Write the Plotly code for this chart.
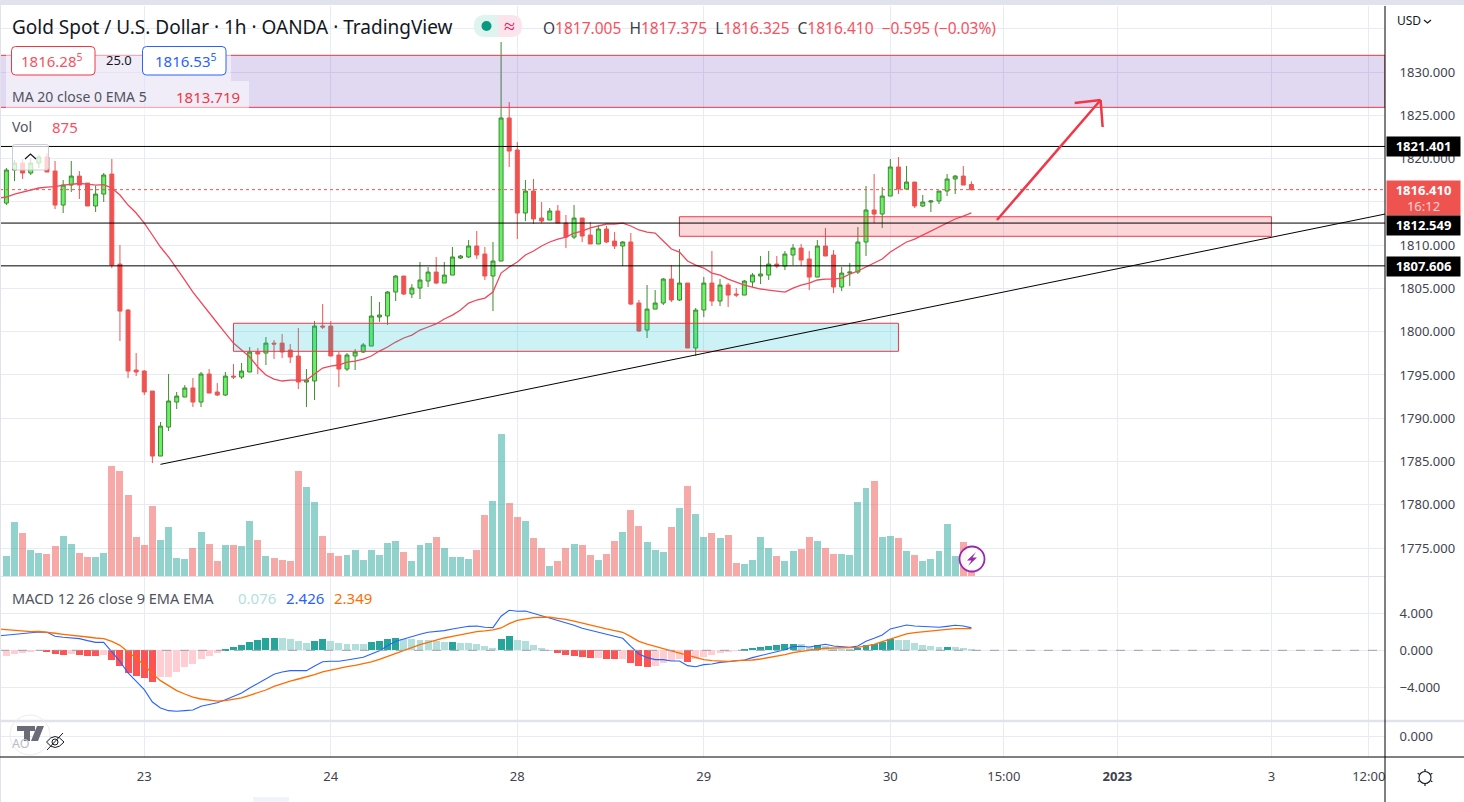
import plotly.graph_objects as go

# ---- price data (hourly bars, OANDA XAU/USD) ----
opens = [1814.86,1818.68,1819.48,1818.33,1819.48,1820.18,1818.56,1814.63,1816.94,1817.98,
 1817.17,1814.52,1815.90,1818.21,1807.81,1802.50,1795.57,1795.45,1793.14,1785.63,
 1788.98,1791.87,1792.45,1793.49,1791.87,1795.11,1793.03,1792.68,1794.87,1794.76,
 1795.34,1797.65,1797.53,1798.68,1798.68,1797.88,1797.19,1794.18,1794.30,1800.65,
 1800.65,1797.30,1795.68,1797.19,1797.65,1798.34,1801.69,1801.81,1804.58,1806.43,
 1804.35,1805.04,1805.85,1806.89,1805.62,1806.54,1808.51,1808.63,1809.90,1808.97,
 1806.43,1808.16,1824.69,1820.99,1813.71,1816.25,1813.13,1812.90,1813.94,1812.55,
 1810.93,1813.13,1811.16,1810.13,1811.86,1810.47,1809.90,1810.36,1803.31,1800.19,
 1802.61,1803.31,1806.08,1803.66,1805.62,1798.11,1802.50,1805.62,1803.54,1805.39,
 1804.35,1804.23,1805.74,1806.43,1806.54,1807.81,1807.58,1808.86,1809.66,1808.40,
 1806.31,1809.90,1808.86,1805.16,1806.77,1806.89,1810.36,1814.06,1813.59,1815.67,
 1819.03,1816.48,1817.29,1814.52,1814.98,1815.10,1816.25,1817.64,1817.98,1817.005]
highs = [1818.91,1819.83,1819.95,1820.06,1820.41,1820.64,1819.72,1817.52,1819.72,1818.56,
 1817.17,1816.83,1818.33,1819.95,1810.01,1802.61,1797.53,1795.57,1793.14,1789.56,
 1795.11,1793.03,1793.83,1794.64,1795.34,1795.68,1794.06,1795.34,1796.26,1796.38,
 1798.23,1798.11,1799.38,1799.03,1799.73,1798.57,1800.42,1795.68,1801.23,1803.19,
 1801.23,1797.65,1797.53,1798.00,1798.68,1804.12,1803.43,1804.70,1806.54,1806.43,
 1805.50,1808.05,1807.47,1808.63,1808.05,1809.78,1808.86,1810.59,1811.63,1809.78,
 1810.36,1833.47,1826.53,1821.91,1817.52,1817.64,1814.98,1814.29,1814.63,1813.48,
 1814.63,1813.13,1812.67,1812.32,1812.21,1811.51,1810.47,1811.40,1803.66,1805.39,
 1804.81,1806.20,1807.70,1809.55,1805.62,1802.73,1806.32,1809.32,1806.08,1805.62,
 1805.04,1805.97,1806.77,1808.74,1809.32,1808.74,1809.32,1810.13,1810.13,1809.32,
 1810.59,1811.98,1809.43,1807.47,1807.93,1812.09,1816.83,1818.21,1816.71,1819.95,
 1820.18,1819.14,1817.29,1815.79,1815.21,1816.25,1818.21,1818.10,1819.14,1817.375]
lows = [1814.63,1817.40,1817.64,1818.10,1818.91,1818.45,1814.17,1813.71,1816.14,1815.33,
 1814.52,1813.83,1814.98,1807.35,1798.92,1794.64,1794.87,1792.68,1784.82,1785.63,
 1788.52,1791.06,1792.45,1791.29,1791.29,1792.91,1792.56,1792.56,1794.53,1794.53,
 1795.34,1795.11,1796.15,1796.84,1796.95,1796.38,1793.37,1791.29,1792.10,1800.31,
 1797.19,1793.60,1795.45,1795.57,1797.53,1798.34,1801.12,1800.77,1803.54,1804.23,
 1803.88,1803.77,1805.16,1805.50,1805.62,1806.54,1808.40,1808.51,1808.40,1805.97,
 1802.38,1808.16,1819.03,1810.70,1812.78,1812.44,1812.55,1812.90,1812.55,1809.66,
 1810.70,1810.36,1810.13,1810.13,1810.24,1809.55,1807.58,1803.07,1799.96,1799.27,
 1802.61,1803.07,1803.43,1803.54,1798.11,1797.19,1801.69,1802.96,1802.96,1802.85,
 1804.00,1804.23,1805.16,1805.50,1805.97,1807.35,1807.12,1807.70,1807.58,1804.81,
 1806.31,1808.74,1804.46,1804.69,1805.27,1806.66,1808.74,1812.55,1811.98,1815.67,
 1815.90,1816.48,1814.29,1814.40,1813.83,1814.75,1815.67,1815.90,1816.94,1816.325]
closes = [1818.68,1819.48,1818.33,1819.48,1820.18,1818.45,1814.63,1816.94,1817.98,1816.94,
 1814.52,1815.90,1818.10,1807.70,1802.38,1795.45,1795.34,1793.03,1785.63,1789.09,
 1791.99,1792.56,1793.49,1791.87,1795.11,1792.91,1792.68,1794.87,1794.76,1795.45,
 1797.65,1797.42,1798.68,1798.57,1797.65,1797.07,1794.18,1794.41,1800.65,1800.54,
 1797.19,1795.68,1797.30,1797.65,1798.46,1801.81,1801.92,1804.58,1806.43,1804.35,
 1805.04,1805.97,1806.89,1805.62,1806.54,1808.63,1808.74,1809.90,1808.86,1806.43,
 1808.16,1824.69,1820.87,1813.71,1816.25,1813.02,1812.78,1813.94,1812.55,1810.93,
 1813.13,1811.05,1810.13,1811.86,1810.36,1809.90,1810.36,1803.19,1800.08,1802.61,
 1803.31,1806.08,1803.66,1805.62,1798.11,1802.50,1805.62,1803.54,1805.39,1804.23,
 1804.23,1805.85,1806.54,1806.66,1807.81,1807.58,1808.97,1809.66,1808.28,1806.31,
 1809.90,1808.74,1805.16,1806.77,1806.89,1810.36,1814.06,1813.59,1815.67,1819.03,
 1816.48,1817.29,1814.52,1814.98,1815.10,1816.25,1817.64,1817.98,1816.94,1816.41]
# line series start one bar earlier (index -1), off the left edge of the chart
ma_ema = [1815.44,1815.56,1815.90,1816.14,1816.37,1816.60,1816.71,1816.77,1816.94,1817.06,1817.12,
 1817.06,1816.94,1817.00,1816.60,1815.79,1814.63,1813.71,1812.55,1811.17,1809.78,
 1808.63,1807.35,1805.97,1804.58,1803.43,1802.15,1801.00,1799.84,1798.68,1797.88,
 1797.07,1795.92,1794.99,1794.53,1794.30,1794.41,1794.41,1794.41,1795.11,1795.80,
 1796.03,1796.15,1796.49,1796.61,1796.84,1797.19,1797.76,1798.23,1798.80,1799.27,
 1799.61,1800.19,1800.54,1800.89,1801.46,1801.92,1802.50,1803.31,1803.66,1803.88,
 1804.58,1806.77,1807.47,1808.05,1808.86,1809.32,1809.90,1810.36,1810.70,1810.93,
 1811.40,1811.63,1811.98,1812.21,1812.44,1812.44,1812.55,1812.21,1811.75,1811.51,
 1811.40,1810.47,1809.55,1809.20,1808.16,1807.70,1807.35,1806.77,1806.54,1806.08,
 1805.74,1805.39,1805.16,1804.93,1804.81,1804.70,1804.58,1805.04,1805.39,1805.62,
 1805.97,1806.08,1806.08,1806.20,1806.66,1807.01,1807.47,1807.93,1808.40,1809.20,
 1809.78,1810.36,1810.70,1811.17,1811.63,1812.09,1812.55,1813.02,1813.36,1813.719]
volumes = [3000,8100,6450,3900,3450,3300,4500,6000,4800,3450,2850,2850,3450,16500,15750,12150,5850,4650,10500,5400,
 7350,2700,2550,4200,6600,4800,2250,4650,4650,4500,8250,5400,3000,2700,2400,2250,15750,13350,11100,6000,
 3450,3000,3150,3900,2400,3900,3150,4950,5250,3600,2250,4650,4950,5850,4200,2850,2850,2550,3900,9150,
 11250,21300,10950,8850,8250,5700,4200,1500,2250,4200,4800,4650,3150,2400,3300,5250,6600,9900,7500,5100,
 3900,3600,7350,10200,13500,9300,5850,6450,5700,6150,1950,1800,2400,5850,4200,3000,2250,3750,4050,5850,
 5250,4200,3300,3300,3150,11100,13200,14250,5850,6000,5700,3750,3150,2250,2550,3750,7800,3000,5100,875]
macd_hist = [-0.58,-0.40,-0.25,-0.14,-0.04,-0.18,-0.40,-0.47,-0.40,-0.50,-0.58,-0.58,-0.50,-1.05,-1.69,-2.41,-2.74,-2.95,-3.39,-2.85,
 -2.85,-2.31,-1.77,-1.44,-0.90,-0.58,-0.25,0.18,0.40,0.61,0.94,1.15,1.37,1.37,1.37,1.26,1.05,0.83,1.05,1.26,
 1.05,0.83,0.72,0.72,0.72,0.94,1.05,1.26,1.37,1.26,1.26,1.15,1.15,1.05,0.94,0.94,0.83,0.83,0.72,0.50,
 0.29,1.26,1.59,1.15,1.05,0.61,0.29,0.03,-0.25,-0.47,-0.58,-0.68,-0.79,-0.79,-0.90,-0.90,-0.90,-1.33,-1.66,-1.77,
 -1.66,-1.33,-1.12,-0.90,-1.23,-0.90,-0.68,-0.47,-0.25,-0.14,-0.04,0.18,0.29,0.40,0.50,0.61,0.72,0.72,0.72,0.40,
 0.61,0.47,0.18,0.11,0.07,0.29,0.54,0.72,0.94,1.26,1.15,1.15,0.83,0.61,0.50,0.40,0.40,0.40,0.29,0.076]
# hist state: U growing above 0, u falling above 0, D falling below 0, d rising below 0
hist_state = list(
    "dddddDDDdDDDdDDDDDD" "dddddddd" "UUUUUUU" "uuuu" "UU" "uuuuu" "UUUU" "uuuuuu" "U" "uuuuu" "UU" "uuuuu"
    "DDDDD" "d" "DD" "d" "DDD" "dddd" "D" "dddddd" "UUUUUUU" "uu" "U" "uuuu" "UUUUU" "uuuuuu" "U" "uuu")
macd_line = [1.55,1.62,1.77,1.84,1.87,1.98,1.95,1.51,1.41,1.37,1.26,1.05,0.86,0.86,-0.11,-1.19,-2.45,-3.35,-4.25,-5.59,-6.23,
 -6.52,-6.59,-6.52,-6.45,-6.05,-5.87,-5.66,-5.33,-4.94,-4.61,-4.07,-3.57,-3.06,-2.59,-2.34,-2.20,-2.20,-2.20,-1.69,-1.23,
 -1.19,-1.19,-1.05,-0.94,-0.76,-0.40,-0.04,0.50,0.97,1.23,1.44,1.73,1.95,2.02,2.13,2.31,2.45,2.59,2.63,2.49,
 2.45,3.68,4.32,4.22,4.25,4.00,3.75,3.50,3.24,2.92,2.70,2.38,2.13,1.95,1.73,1.51,1.30,0.43,-0.40,-0.79,
 -1.01,-1.01,-1.15,-1.15,-1.66,-1.77,-1.55,-1.48,-1.30,-1.23,-1.12,-1.05,-0.79,-0.58,-0.36,-0.18,0.07,0.40,0.43,0.36,
 0.54,0.65,0.47,0.36,0.32,0.47,0.97,1.30,1.66,2.31,2.56,2.74,2.63,2.59,2.49,2.49,2.59,2.70,2.63,2.426]
macd_signal = [2.31,2.23,2.13,2.05,2.02,2.05,1.98,1.84,1.73,1.66,1.55,1.44,1.33,1.26,0.97,0.54,-0.18,-0.83,-1.62,-2.52,-3.28,
 -3.86,-4.36,-4.72,-5.05,-5.26,-5.41,-5.48,-5.44,-5.33,-5.15,-4.86,-4.61,-4.29,-3.89,-3.57,-3.32,-3.10,-2.88,-2.63,-2.34,
 -2.13,-1.95,-1.77,-1.62,-1.48,-1.26,-0.97,-0.65,-0.29,0.04,0.32,0.61,0.86,1.12,1.33,1.51,1.69,1.87,2.02,2.09,
 2.20,2.41,2.88,3.24,3.42,3.53,3.57,3.57,3.46,3.35,3.14,2.92,2.70,2.49,2.31,2.13,1.95,1.48,0.97,0.68,
 0.40,0.18,-0.07,-0.32,-0.58,-0.83,-1.01,-1.12,-1.19,-1.19,-1.12,-1.12,-1.05,-0.94,-0.79,-0.65,-0.47,-0.25,-0.11,0.04,
 0.14,0.22,0.25,0.25,0.29,0.32,0.47,0.65,0.94,1.23,1.48,1.77,1.91,2.02,2.13,2.20,2.27,2.34,2.38,2.349]

# ---- axes ----
time_ticks = [17, 40, 63, 86, 109, 123, 137, 156, 168]
time_labels = ["23", "24", "28", "29", "30", "15:00", "<b>2023</b>", "3", "12:00"]
price_ticks = [1830, 1825, 1820, 1810, 1805, 1800, 1795, 1790, 1785, 1780, 1775]
price_labels = ["1830.000", "1825.000", "1820.000", "1810.000", "1805.000", "1800.000", "1795.000",
                "1790.000", "1785.000", "1780.000", "1775.000"]
price_grid_only = [1835, 1815]
macd_ticks = [4, 0, -4]
macd_labels = ["4.000", "0.000", "−4.000"]

# ---- drawings (bar index, price) ----
levels = [1821.401, 1812.549, 1807.606]
last_price = 1816.41
zone_purple = [-0.79, 170.0, 1825.92, 1831.93]
zone_teal = [28.0, 110.0, 1797.73, 1800.97]
zone_pink = [83.0, 156.0, 1811.02, 1813.28]
trend = [19.0, 170.0, 1784.67, 1813.59]
arrow_x = [122.15, 134.93, 131.73, 135.18]
arrow_y = [1812.90, 1826.77, 1826.42, 1823.65]

W, H = 1464, 802
AX = 1385
PX = lambda x: x / W
PY = lambda y: 1 - y / H
FONT = "Noto Sans"
DARK = "#131722"
GRID = "#e6ecf3"
RED = "#f23645"
CANDLE_RED = "#ef5350"

bars = list(range(len(closes)))
line_bars = [-1] + bars
vol_colors = ["rgba(38,166,154,0.5)" if c >= o else "rgba(239,83,80,0.5)" for o, c in zip(opens, closes)]
state_color = {"U": "#26a69a", "u": "#b2dfdb", "D": "#ff5252", "d": "#ffcdd2"}
hist_colors = [state_color[s] for s in hist_state]

fig = go.Figure()
fig.add_trace(go.Bar(x=bars, y=volumes, marker=dict(color=vol_colors, line_width=0), width=0.86,
                     xaxis="x", yaxis="y", hoverinfo="skip"))
fig.add_trace(go.Candlestick(x=bars, open=opens, high=highs, low=lows, close=closes,
                             increasing=dict(line=dict(color="#3f8a2e", width=1), fillcolor="#69f069"),
                             decreasing=dict(line=dict(color=CANDLE_RED, width=1), fillcolor=CANDLE_RED),
                             whiskerwidth=0, xaxis="x", yaxis="y2", hoverinfo="skip"))
fig.add_trace(go.Scatter(x=line_bars, y=ma_ema, mode="lines", line=dict(color="#f0475a", width=1.3),
                         xaxis="x", yaxis="y2", hoverinfo="skip"))
fig.add_trace(go.Bar(x=bars, y=macd_hist, marker=dict(color=hist_colors, line_width=0), width=0.86,
                     xaxis="x", yaxis="y3", hoverinfo="skip"))
fig.add_trace(go.Scatter(x=line_bars, y=macd_line, mode="lines", line=dict(color="#2962ff", width=1.1),
                         xaxis="x", yaxis="y3", hoverinfo="skip"))
fig.add_trace(go.Scatter(x=line_bars, y=macd_signal, mode="lines", line=dict(color="#ff6d00", width=1.3),
                         xaxis="x", yaxis="y3", hoverinfo="skip"))
# the AO pane carries no visible values in the reference
fig.add_trace(go.Scatter(x=[None], y=[None], mode="lines", xaxis="x", yaxis="y4", hoverinfo="skip"))

shapes = []
def zone(z, fill):
    shapes.append(dict(type="rect", xref="x", yref="y2", x0=z[0], x1=z[1], y0=z[2], y1=z[3],
                       fillcolor=fill, line=dict(color=RED, width=1), layer="above"))
def seg(x0, y0, x1, y1, color, w=1, dash=None, xref="x", yref="y2"):
    ln = dict(color=color, width=w)
    if dash:
        ln["dash"] = dash
    shapes.append(dict(type="line", xref=xref, yref=yref, x0=x0, x1=x1, y0=y0, y1=y1, line=ln, layer="above"))
def pseg(x0, y0, x1, y1, color, w=1, dash=None):
    seg(PX(x0), PY(y0), PX(x1), PY(y1), color, w, dash, "paper", "paper")
def prect(x0, y0, x1, y1, fill, line=None, lw=1):
    shapes.append(dict(type="rect", xref="paper", yref="paper", x0=PX(x0), x1=PX(x1), y0=PY(y0), y1=PY(y1),
                       fillcolor=fill, line=dict(color=line or "rgba(0,0,0,0)", width=lw if line else 0), layer="above"))
def pcircle(cx, cy, r, fill, line=None, lw=1):
    shapes.append(dict(type="circle", xref="paper", yref="paper", x0=PX(cx - r), x1=PX(cx + r), y0=PY(cy - r), y1=PY(cy + r),
                       fillcolor=fill, line=dict(color=line or "rgba(0,0,0,0)", width=lw if line else 0), layer="above"))
def ppath(pts, fill="rgba(0,0,0,0)", line=None, lw=1, close=True):
    d = "M " + " L ".join(f"{PX(x):.5f},{PY(y):.5f}" for x, y in pts) + (" Z" if close else "")
    shapes.append(dict(type="path", xref="paper", yref="paper", path=d, fillcolor=fill,
                       line=dict(color=line or "rgba(0,0,0,0)", width=lw if line else 0), layer="above"))
def rrect(x0, y0, x1, y1, r, fill, line=None, lw=1):
    X0, X1 = PX(x0), PX(x1)
    Y0, Y1 = PY(y0), PY(y1)
    rx, ry = r / W, r / H
    d = (f"M {X0+rx},{Y0} L {X1-rx},{Y0} Q {X1},{Y0} {X1},{Y0-ry} L {X1},{Y1+ry} Q {X1},{Y1} {X1-rx},{Y1} "
         f"L {X0+rx},{Y1} Q {X0},{Y1} {X0},{Y1+ry} L {X0},{Y0-ry} Q {X0},{Y0} {X0+rx},{Y0} Z")
    shapes.append(dict(type="path", xref="paper", yref="paper", path=d, fillcolor=fill,
                       line=dict(color=line or "rgba(0,0,0,0)", width=lw if line else 0), layer="above"))

# zones, levels, trend line, arrow
zone(zone_purple, "rgba(103,58,183,0.2)")
zone(zone_teal, "rgba(0,188,212,0.2)")
zone(zone_pink, "rgba(242,54,69,0.2)")
for lv in levels:
    seg(-0.79, lv, 170.0, lv, "#000000", 1)
seg(-0.79, last_price, 170.0, last_price, CANDLE_RED, 1, "dot")
seg(trend[0], trend[2], trend[1], trend[3], "#000000", 1)
seg(arrow_x[0], arrow_y[0], arrow_x[1], arrow_y[1], RED, 2.5)
seg(arrow_x[2], arrow_y[2], arrow_x[1], arrow_y[1], RED, 2.5)
seg(arrow_x[3], arrow_y[3], arrow_x[1], arrow_y[1], RED, 2.5)
# zero line of the MACD pane
seg(-0.79, 0, 170.0, 0, "#9aa0ab", 1, "dash", "x", "y3")

# frame
prect(0, 0, W, 5, "#e0e3eb")
prect(0, 0, 1, H, "#e0e3eb")
pseg(0, 576.5, AX, 576.5, "#e0e3eb", 1)
pseg(0, 721, W, 721, "#e0e3eb", 2.5)
pseg(0, 757, W, 757, "#000000", 1)
pseg(AX, 6, AX, H, "#000000", 1)
prect(253, 797, 289, 802, "#f0f3fa")

# legend backings
prect(6, 46, 231, 81, "rgba(255,255,255,0.5)")
prect(6, 81, 249, 115, "rgba(255,255,255,0.5)")
rrect(11.5, 46.5, 95, 75, 4, "#ffffff", RED, 1)
rrect(142.5, 46.5, 226, 75, 4, "#ffffff", "#2962ff", 1)
# status pill
rrect(474, 15, 510, 37, 11, "#dff3ef")
shapes.append(dict(type="path", xref="paper", yref="paper", layer="above", fillcolor="#fce4ec",
                   line=dict(width=0),
                   path=f"M {PX(498)},{PY(15)} L {PX(511)},{PY(15)} Q {PX(522)},{PY(15)} {PX(522)},{PY(26)} "
                        f"Q {PX(522)},{PY(37)} {PX(511)},{PY(37)} L {PX(498)},{PY(37)} Z"))
pcircle(486.5, 26, 5, "#089981")
# collapse button
rrect(12.5, 144.5, 48.5, 170, 2, "rgba(255,255,255,0.75)", "#c9ced8", 1)
ppath([(25, 159), (30.5, 154), (36, 159)], line=DARK, lw=1.2, close=False)
# lightning badge
pcircle(972, 559, 12.5, "rgba(255,255,255,0.9)", "#9c27b0", 1.8)
ppath([(976, 552), (967, 560.5), (971.5, 560.5), (968, 566), (977, 557.5), (972.5, 557.5)], fill="#9c27b0")
# logo + hide icon
pcircle(30, 735, 20, "rgba(255,255,255,0)", "#ececec", 1)
ppath([(17, 726), (35, 726), (35, 731), (30, 731), (30, 741), (24, 741), (24, 731), (17, 731)], fill="#6a6d78")
ppath([(37, 726), (44, 726), (38, 741), (31, 741)], fill="#6a6d78")
shapes.append(dict(type="path", xref="paper", yref="paper", layer="above", fillcolor="rgba(0,0,0,0)",
                   line=dict(color="#131722", width=1),
                   path=f"M {PX(46.5)},{PY(742)} Q {PX(55)},{PY(731)} {PX(64)},{PY(742)} Q {PX(55)},{PY(753)} {PX(46.5)},{PY(742)} Z"))
pcircle(55, 742, 3, "rgba(0,0,0,0)", "#131722", 1)
pseg(47, 750, 63, 733, "#131722", 1)
# gear
pcircle(1425, 777.5, 6, "rgba(0,0,0,0)", DARK, 1.1)
for dx, dy in [(0, -8), (0, 8), (7, -4), (-7, -4), (7, 4), (-7, 4)]:
    pseg(1425 + dx * 0.8, 777.5 + dy * 0.8, 1425 + dx * 1.05, 777.5 + dy * 1.05, DARK, 1.2)
# USD chevron
ppath([(1424, 20), (1427.5, 23), (1431, 20)], line=DARK, lw=1.2, close=False)

def txt(x, y, s, size=13, color=DARK, anchor="left"):
    return dict(xref="paper", yref="paper", x=PX(x), y=PY(y), text=s, showarrow=False, xanchor=anchor,
                yanchor="middle", font=dict(family=FONT, size=size, color=color), borderpad=0, borderwidth=0)
def tag(y, s, h=18.5, bg="#000000", color="#ffffff"):
    return dict(xref="paper", yref="paper", x=PX(AX + 0.5), y=PY(y), text=s, showarrow=False, xanchor="left",
                yanchor="middle", width=73, height=h, align="center", bgcolor=bg,
                font=dict(family=FONT, size=13, color=color), borderpad=0)

S = '<span style="color:#f7525f">'
annos = [
    txt(12, 27, "Gold Spot / U.S. Dollar · 1h · OANDA · TradingView", 19, DARK),
    txt(543, 27.5, f'O{S}1817.005</span>  H{S}1817.375</span>  L{S}1816.325</span>  C{S}1816.410</span>  {S}−0.595 (−0.03%)</span>', 15.5, "#3b3f49"),
    txt(509, 26, "≈", 20, "#d81b60", "center"),
    txt(52, 60.5, "1816.28<sup>5</sup>", 15, "#f7525f", "center"),
    txt(118.5, 60.5, "25.0", 13, DARK, "center"),
    txt(186, 60.5, "1816.53<sup>5</sup>", 15, "#2962ff", "center"),
    txt(12, 97, "MA 20 close 0 EMA 5", 14, "#50535e"),
    txt(176, 97, "1813.719", 15, "#f23645"),
    txt(12, 127, "Vol", 14, "#50535e"),
    txt(52, 127, "875", 15, "#f7525f"),
    txt(12, 597.5, "MACD 12 26 close 9 EMA EMA", 14.5, "#50535e"),
    txt(238, 597.5, "0.076", 15, "#b2dfdb"),
    txt(286, 597.5, "2.426", 15, "#2962ff"),
    txt(334, 597.5, "2.349", 15, "#ff6d00"),
    txt(12, 743, "AO", 12.5, "#b9bcc4"),
    txt(1397, 21, "USD", 12, DARK),
    tag(146.5, "<b>1821.401</b>"),
    tag(198, '<b>1816.410</b><br><span style="color:#fbd3d3">16:12</span>', h=34, bg=CANDLE_RED),
    tag(225.5, "<b>1812.549</b>"),
    tag(266.5, "<b>1807.606</b>"),
]

dom_main = [PY(576), PY(6)]
dom_macd = [PY(720), PY(577)]
dom_ao = [PY(757), PY(722)]
axfont = dict(family=FONT, size=13, color="#3f434e")
fig.update_layout(
    width=W, height=H, autosize=False,
    margin=dict(l=0, r=0, t=0, b=0), paper_bgcolor="#ffffff", plot_bgcolor="#ffffff",
    showlegend=False, barmode="overlay", bargap=0,
    shapes=shapes, annotations=annos, hovermode=False,
    xaxis=dict(domain=[0, AX / W], range=[-0.79, 170.0], anchor="y4", tickmode="array",
               tickvals=time_ticks, ticktext=time_labels, showgrid=True, gridcolor=GRID, gridwidth=1,
               zeroline=False, showline=False, ticks="outside", ticklen=7, tickcolor="rgba(0,0,0,0)",
               tickfont=axfont, tickangle=0, rangeslider=dict(visible=False)),
    yaxis=dict(domain=dom_main, range=[0, 85500], visible=False, fixedrange=True),
    yaxis2=dict(domain=dom_main, range=[1771.77, 1837.63], overlaying="y", side="right", anchor="x",
                tickmode="array", tickvals=price_ticks, ticktext=price_labels, showgrid=True,
                gridcolor=GRID, zeroline=False, showline=False, ticks="outside", ticklen=11,
                tickcolor="rgba(0,0,0,0)", tickfont=axfont,
                minor=dict(tickmode="array", tickvals=price_grid_only, showgrid=True, gridcolor=GRID, ticks="")),
    yaxis3=dict(domain=dom_macd, range=[-7.53, 7.92], side="right", anchor="x", tickmode="array",
                tickvals=macd_ticks, ticktext=macd_labels, showgrid=True, gridcolor=GRID, zeroline=False,
                showline=False, ticks="outside", ticklen=11, tickcolor="rgba(0,0,0,0)", tickfont=axfont),
    yaxis4=dict(domain=dom_ao, range=[-1.05, 0.7], side="right", anchor="x", tickmode="array",
                tickvals=[0], ticktext=["0.000"], showgrid=True, gridcolor=GRID, zeroline=False,
                showline=False, ticks="outside", ticklen=11, tickcolor="rgba(0,0,0,0)", tickfont=axfont),
)
assert len(hist_state) == len(closes), len(hist_state)
fig.write_html("out.html", config={"displayModeBar": False},
               post_script="document.body.style.margin='0';document.documentElement.style.overflow='hidden';")
